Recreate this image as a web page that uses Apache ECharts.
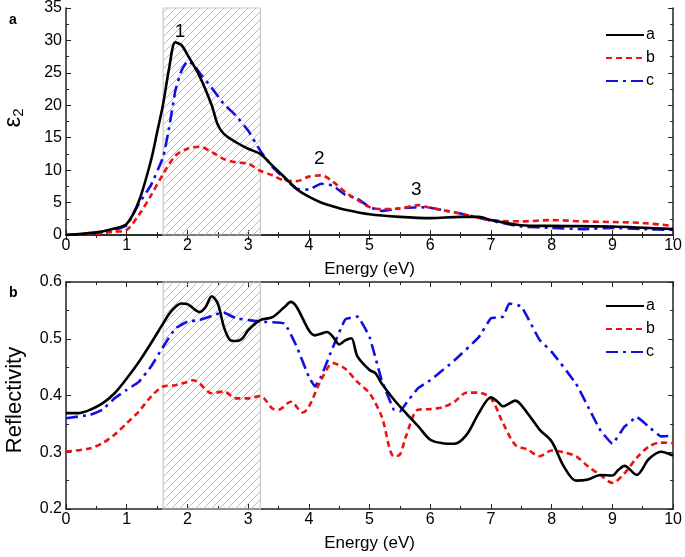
<!DOCTYPE html>
<html><head><meta charset="utf-8">
<script src="https://cdn.jsdelivr.net/npm/echarts@6/dist/echarts.min.js"></script>
<style>html,body{margin:0;padding:0;background:#fff}#c{width:685px;height:557px}</style>
</head><body><div id="c"></div>
<script>
// ---- data: panel a (epsilon_2) ----
const epsA = [[0,0],[0.5,0.4],[0.8,1.0],[1.0,1.7],[1.2,5.2],[1.4,11.5],[1.5,15.8],[1.6,20.2],[1.7,25.8],[1.8,29.7],[1.9,29.3],[2.0,27.8],[2.2,24.5],[2.4,20],[2.5,17],[2.6,15.6],[2.8,14.3],[3.0,13.3],[3.2,12.5],[3.4,10.7],[3.6,8.9],[3.8,7.1],[4.0,5.9],[4.2,5.0],[4.4,4.4],[4.6,3.9],[5.0,3.2],[5.5,2.8],[6.0,2.6],[6.5,2.8],[6.8,2.8],[7.0,2.3],[7.5,1.5],[8.0,1.4],[9.0,1.3],[10,0.9]];
const epsB = [[0,0],[0.5,0.2],[0.8,0.5],[1.0,0.8],[1.2,3.1],[1.4,6.1],[1.6,9.4],[1.8,12.2],[2.0,13.3],[2.2,13.6],[2.4,12.8],[2.6,11.7],[2.8,11.2],[3.0,11.0],[3.2,9.9],[3.4,9.2],[3.6,8.4],[3.8,8.3],[4.0,9.0],[4.2,9.2],[4.4,8.2],[4.6,6.6],[4.8,5.4],[5.0,4.3],[5.2,4.0],[5.5,4.1],[5.8,4.6],[6.0,4.2],[6.5,3.3],[7.0,2.3],[7.5,2.1],[8.0,2.3],[8.5,2.1],[9.0,2.0],[9.5,1.85],[10,1.4]];
const epsC = [[0,0],[0.5,0.3],[0.8,0.8],[1.0,1.5],[1.2,4.8],[1.4,7.7],[1.6,12],[1.7,16.6],[1.8,22.2],[1.9,25.3],[2.0,26.8],[2.1,26.3],[2.2,25],[2.4,22.7],[2.6,20.2],[2.8,18.4],[3.0,16.1],[3.2,13],[3.4,10.5],[3.6,8.7],[3.8,7.1],[4.0,7.0],[4.2,7.9],[4.4,7.6],[4.6,6.2],[4.8,5.6],[5.0,4.3],[5.2,3.7],[5.5,4.1],[5.8,4.3],[6.0,4.2],[6.5,3.3],[7.0,2.2],[7.5,1.3],[8.0,1.1],[8.5,0.9],[9.0,1.1],[9.5,0.9],[10,0.8]];
// ---- data: panel b (reflectivity) ----
const refA = [[0,0.369],[0.2,0.369],[0.4,0.375],[0.6,0.386],[0.8,0.404],[1.0,0.430],[1.2,0.459],[1.4,0.492],[1.6,0.527],[1.7,0.544],[1.8,0.556],[1.9,0.562],[2.0,0.561],[2.2,0.547],[2.3,0.556],[2.4,0.575],[2.5,0.562],[2.6,0.521],[2.7,0.498],[2.8,0.496],[2.9,0.500],[3.0,0.515],[3.2,0.533],[3.4,0.538],[3.6,0.556],[3.7,0.565],[3.8,0.556],[4.0,0.515],[4.1,0.506],[4.2,0.509],[4.3,0.512],[4.4,0.503],[4.5,0.490],[4.6,0.497],[4.7,0.501],[4.8,0.469],[5.0,0.445],[5.1,0.439],[5.2,0.421],[5.4,0.393],[5.6,0.369],[5.8,0.346],[6.0,0.322],[6.2,0.316],[6.4,0.315],[6.6,0.331],[6.8,0.369],[7.0,0.397],[7.1,0.390],[7.2,0.381],[7.4,0.391],[7.6,0.369],[7.8,0.340],[8.0,0.319],[8.2,0.275],[8.4,0.250],[8.6,0.252],[8.8,0.260],[9.0,0.259],[9.1,0.269],[9.2,0.276],[9.4,0.260],[9.6,0.288],[9.8,0.301],[10,0.294]];
const refB = [[0,0.301],[0.4,0.307],[0.6,0.316],[0.8,0.331],[1.0,0.351],[1.2,0.372],[1.4,0.398],[1.6,0.416],[1.8,0.418],[2.0,0.424],[2.1,0.427],[2.2,0.421],[2.4,0.404],[2.6,0.407],[2.8,0.395],[3.0,0.395],[3.2,0.399],[3.4,0.377],[3.5,0.375],[3.7,0.389],[3.9,0.370],[4.0,0.380],[4.2,0.427],[4.4,0.457],[4.6,0.447],[4.8,0.424],[5.0,0.404],[5.2,0.363],[5.4,0.293],[5.5,0.296],[5.6,0.328],[5.8,0.375],[6.0,0.376],[6.2,0.379],[6.4,0.389],[6.6,0.405],[6.8,0.405],[7.0,0.395],[7.2,0.351],[7.4,0.313],[7.6,0.305],[7.8,0.293],[8.0,0.303],[8.2,0.300],[8.4,0.293],[8.6,0.275],[8.8,0.260],[9.0,0.246],[9.2,0.263],[9.4,0.290],[9.6,0.310],[9.8,0.317],[10,0.316]];
const refC = [[0,0.360],[0.4,0.366],[0.6,0.375],[0.8,0.395],[1.0,0.410],[1.2,0.424],[1.4,0.451],[1.6,0.486],[1.8,0.518],[2.0,0.530],[2.2,0.533],[2.5,0.544],[2.6,0.546],[2.8,0.536],[3.0,0.533],[3.2,0.530],[3.6,0.527],[3.8,0.486],[4.0,0.433],[4.1,0.416],[4.2,0.433],[4.4,0.486],[4.6,0.534],[4.8,0.539],[5.0,0.503],[5.2,0.427],[5.4,0.375],[5.5,0.372],[5.6,0.386],[5.8,0.413],[6.0,0.427],[6.4,0.462],[6.8,0.503],[7.0,0.536],[7.2,0.539],[7.3,0.562],[7.5,0.557],[7.8,0.498],[8.0,0.477],[8.4,0.421],[8.6,0.380],[8.8,0.339],[9.0,0.315],[9.2,0.345],[9.4,0.362],[9.6,0.345],[9.8,0.328],[10,0.329]];
const seriesNames = ['a','b','c'];
const hatchRange = [1.6, 3.2];
const peakLabels = [[1.88, 31.4, '1'], [4.17, 11.8, '2'], [5.77, 6.9, '3']];
const xTicks = [0, 10, 1];
const epsTicks = [0, 35, 5];
const refTicks = [0.2, 0.6, 0.1];

// hatch pattern
const pc = document.createElement('canvas');
pc.width = 8; pc.height = 8;
const g = pc.getContext('2d');
g.strokeStyle = '#b4b4b4'; g.lineWidth = 0.9;
g.beginPath();
g.moveTo(0, 8); g.lineTo(8, 0);
g.moveTo(-4, 4); g.lineTo(4, -4);
g.moveTo(4, 12); g.lineTo(12, 4);
g.stroke();

const FONT = 'Liberation Sans';
const chart = echarts.init(document.getElementById('c'), null, {renderer: 'canvas'});

function xAx(grid, pos, showLabel, name) {
  return {
    type: 'value', gridIndex: grid, position: pos, min: xTicks[0], max: xTicks[1], interval: xTicks[2],
    axisLine: {show: true, lineStyle: {color: '#222', width: 1.5}},
    axisTick: {show: true, inside: true, length: 5, lineStyle: {color: '#222', width: 1}},
    minorTick: {show: true, splitNumber: 2, length: 3, lineStyle: {color: '#222'}},
    axisLabel: {show: showLabel, color: '#000', fontFamily: FONT, fontSize: 16, margin: 3},
    splitLine: {show: false},
    name: name || '', nameLocation: 'middle', nameGap: 26,
    nameTextStyle: {color: '#000', fontFamily: FONT, fontSize: 17}
  };
}
function yAx(grid, pos, t, showLabel, fmt) {
  return {
    type: 'value', gridIndex: grid, position: pos, min: t[0], max: t[1], interval: t[2],
    axisLine: {show: true, onZero: false, lineStyle: {color: '#222', width: 1.5}},
    axisTick: {show: true, inside: true, length: 5, lineStyle: {color: '#222', width: 1}},
    minorTick: {show: true, splitNumber: 2, length: 3, lineStyle: {color: '#222'}},
    axisLabel: {show: showLabel, color: '#000', fontFamily: FONT, fontSize: 16, margin: 4, formatter: fmt},
    splitLine: {show: false}
  };
}
const styles = [
  {color: '#000000', type: 'solid', width: 2.6},
  {color: '#ee1111', type: [6, 4], width: 2.6},
  {color: '#1010e0', type: [12, 5, 3, 5], width: 2.6}
];
function lineSeries(idx, data, ax, smooth, withArea) {
  const s = {
    name: seriesNames[idx], type: 'line', xAxisIndex: ax, yAxisIndex: ax, data: data,
    symbol: 'none', showSymbol: false, smooth: smooth, lineStyle: styles[idx], itemStyle: {color: styles[idx].color}, z: 5 - idx
  };
  if (withArea) {
    s.markArea = {silent: true, itemStyle: {color: {image: pc, repeat: 'repeat'}, borderColor: '#c8c8c8', borderWidth: 1.2},
      data: [[{xAxis: hatchRange[0]}, {xAxis: hatchRange[1]}]]};
  }
  return s;
}
const legendBase = {
  orient: 'vertical', itemWidth: 38, itemHeight: 12, itemGap: 7,
  itemStyle: {opacity: 0},
  textStyle: {fontFamily: FONT, fontSize: 16, color: '#000', padding: [0, 0, 0, -3]},
  data: seriesNames
};
const option = {
  animation: false,
  backgroundColor: '#fff',
  grid: [
    {left: 66, right: 7, top: 6, height: 229},
    {left: 66, right: 7, top: 282, height: 227}
  ],
  xAxis: [xAx(0, 'bottom', true, 'Energy (eV)'), xAx(1, 'bottom', true, 'Energy (eV)'), xAx(0, 'top', false), xAx(1, 'top', false)],
  yAxis: [yAx(0, 'left', epsTicks, true), yAx(1, 'left', refTicks, true, v => v.toFixed(1)), yAx(0, 'right', epsTicks, false), yAx(1, 'right', refTicks, false)],
  legend: [
    Object.assign({}, legendBase, {left: 600, top: 22}),
    Object.assign({}, legendBase, {left: 600, top: 293})
  ],
  series: [
    lineSeries(0, epsA, 0, 0.3, true),
    lineSeries(1, epsB, 0, 0.3, false),
    lineSeries(2, epsC, 0, 0.1, false),
    lineSeries(0, refA, 1, 0.3, true),
    lineSeries(1, refB, 1, 0.3, false),
    lineSeries(2, refC, 1, 0.1, false),
    {type: 'scatter', xAxisIndex: 0, yAxisIndex: 0, symbolSize: 0, data: peakLabels, silent: true,
     itemStyle: {opacity: 1},
     label: {show: true, position: 'inside', formatter: p => p.data[2], fontFamily: FONT, fontSize: 19, color: '#000', opacity: 1}}
  ],
  graphic: [
    {type: 'text', left: 9, top: 13, style: {text: 'a', font: 'bold 14px "Liberation Sans"', fill: '#000'}},
    {type: 'text', left: 9, top: 286, style: {text: 'b', font: 'bold 14px "Liberation Sans"', fill: '#000'}},
    {type: 'text', x: 13, y: 118, rotation: Math.PI / 2, style: {
      text: '{e|ε}{s|2}', verticalAlign: 'middle', align: 'center',
      rich: {e: {fontFamily: FONT, fontSize: 24, fill: '#000'}, s: {fontFamily: FONT, fontSize: 15, fill: '#000', padding: [12, 0, 0, 0]}}}},
    {type: 'text', x: 15, y: 400, rotation: Math.PI / 2, style: {
      text: 'Reflectivity', font: '22px "Liberation Sans"', fill: '#000', align: 'center', verticalAlign: 'middle'}}
  ]
};
chart.setOption(option);
</script></body></html>
